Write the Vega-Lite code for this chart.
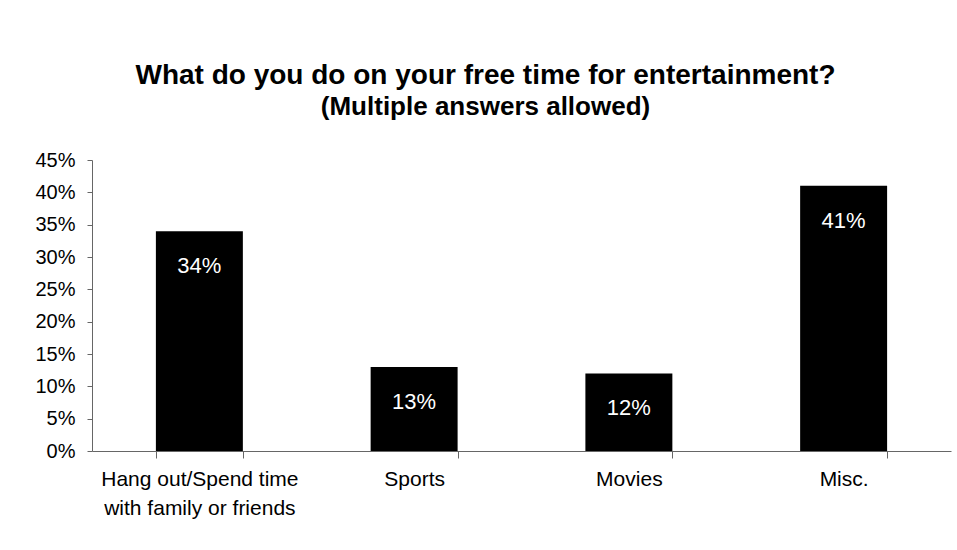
{
  "$schema": "https://vega.github.io/schema/vega-lite/v6.json",
  "width": 859,
  "height": 291,
  "autosize": "none",
  "padding": {"left": 92, "top": 160, "right": 6, "bottom": 99},
  "background": "white",
  "config": {"view": {"stroke": null}},
  "title": {
    "text": "What do you do on your free time for entertainment?",
    "subtitle": "(Multiple answers allowed)",
    "font": "Liberation Sans",
    "fontSize": 28,
    "fontWeight": "bold",
    "color": "black",
    "subtitleFont": "Liberation Sans",
    "subtitleFontSize": 26,
    "subtitleFontWeight": "bold",
    "subtitleColor": "black",
    "anchor": "middle",
    "frame": "group",
    "dx": -36,
    "offset": 30,
    "subtitlePadding": 4
  },
  "data": {
    "values": [
      {"category": "Hang out/Spend time with family or friends", "share": 0.34},
      {"category": "Sports", "share": 0.13},
      {"category": "Movies", "share": 0.12},
      {"category": "Misc.", "share": 0.41}
    ]
  },
  "encoding": {
    "x": {
      "field": "category",
      "type": "nominal",
      "sort": null,
      "title": null,
      "scale": {"paddingInner": 0.595, "paddingOuter": 0.2975},
      "axis": {
        "labelAngle": 0,
        "labelFont": "Liberation Sans",
        "labelFontSize": 21,
        "labelColor": "black",
        "labelLineHeight": 29,
        "labelPadding": 10,
        "labelBaseline": "top",
        "labelLimit": 300,
        "tickBand": "extent",
        "tickSize": 7,
        "tickColor": "#666666",
        "domainColor": "#666666",
        "labelExpr": "datum.value == 'Hang out/Spend time with family or friends' ? ['Hang out/Spend time', 'with family or friends'] : datum.value"
      }
    },
    "y": {
      "field": "share",
      "type": "quantitative",
      "title": null,
      "scale": {"domain": [0, 0.45], "nice": false},
      "axis": {
        "values": [0, 0.05, 0.1, 0.15, 0.2, 0.25, 0.3, 0.35, 0.4, 0.45],
        "format": ".0%",
        "grid": false,
        "labelFont": "Liberation Sans",
        "labelFontSize": 20,
        "labelColor": "black",
        "labelPadding": 12,
        "tickSize": 5,
        "tickColor": "#666666",
        "domainColor": "#666666"
      }
    }
  },
  "layer": [
    {"mark": {"type": "bar", "color": "black"}},
    {
      "mark": {"type": "text", "color": "white", "dy": 35, "fontSize": 22, "font": "Liberation Sans", "baseline": "middle"},
      "encoding": {"text": {"field": "share", "type": "quantitative", "format": ".0%"}}
    }
  ]
}
